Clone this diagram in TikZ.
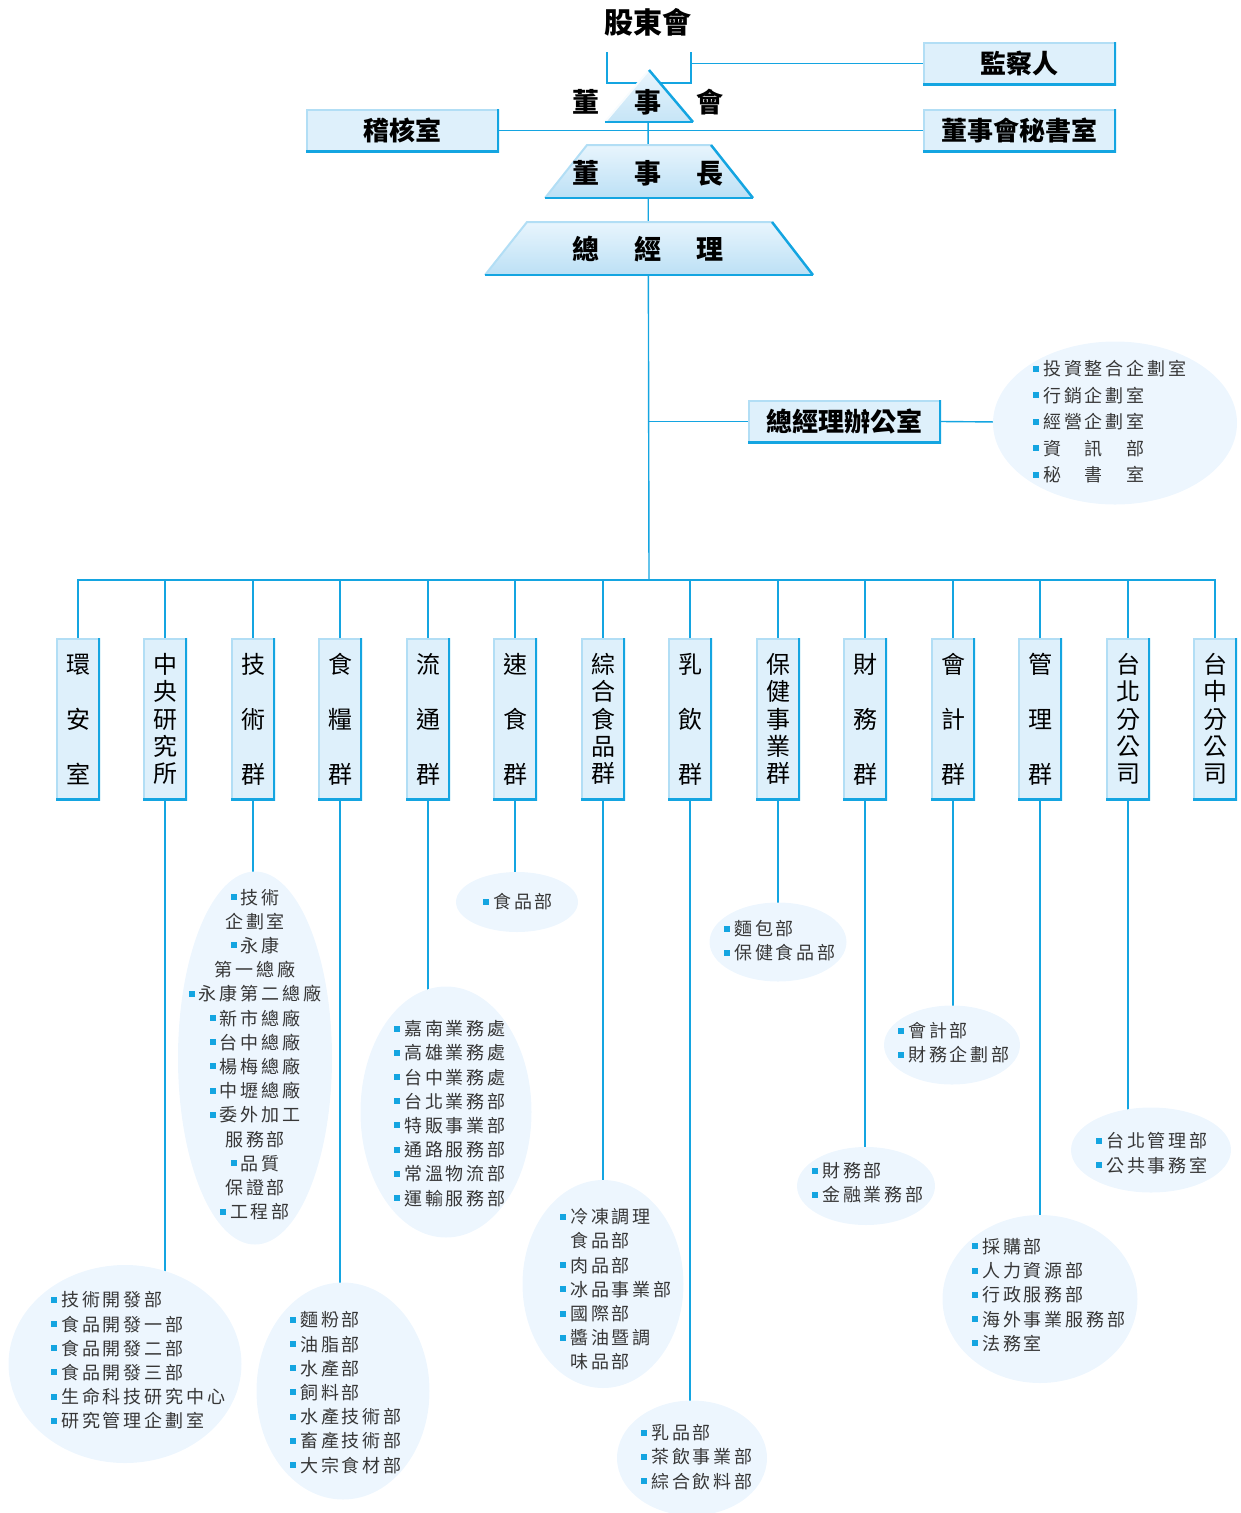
\documentclass[tikz,border=0pt]{standalone}
\usepackage{fontspec}
\setmainfont{Noto Sans CJK TC}
\newfontfamily\listfont{Noto Sans CJK TC}[LetterSpace=16]
\usetikzlibrary{shapes.geometric, backgrounds}
\definecolor{ogcyan}{RGB}{20,165,225}
\definecolor{ogfill}{RGB}{222,240,251}
\definecolor{oghigh}{RGB}{178,222,245}
\definecolor{ogcloud}{RGB}{237,246,254}
\definecolor{oggray}{RGB}{55,55,55}
\definecolor{ogtopA}{RGB}{232,245,253}
\definecolor{ogtopB}{RGB}{188,224,245}
\tikzset{
    ogline/.style={draw=ogcyan, line width=1.4pt},
    ogbus/.style={draw=ogcyan, line width=2pt},
    ogbox/.style={fill=ogfill, inner sep=0pt,
      path picture={
        \draw[draw=oghigh, line width=3pt] (path picture bounding box.south west)
          -- (path picture bounding box.north west) -- (path picture bounding box.north east);
        \draw[draw=ogcyan, line width=5pt] (path picture bounding box.north east)
          -- (path picture bounding box.south east) -- (path picture bounding box.south west);}},
    oghead/.style={ogbox, minimum width=193, minimum height=43, font=\bfseries\fontsize{26}{30}\selectfont},
    oggroup/.style={ogbox, minimum width=44, minimum height=162, align=center, font=\fontsize{24}{55}\selectfont},
    ogdense/.style={oggroup, font=\fontsize{24}{27.3}\selectfont},
    ogtitle/.style={inner sep=0pt, font=\bfseries\fontsize{27}{30}\selectfont},
    ogcloud/.style={ellipse, fill=ogcloud, inner sep=0pt},
    oglist/.style={inner sep=0pt, anchor=west, align=left, text=oggray, font=\listfont\fontsize{18}{24.2}\selectfont}
}
\newcommand{\ogdot}{\textcolor{ogcyan}{\rule[4pt]{6pt}{6pt}}\hspace{4pt}}
\newcommand{\ogskip}{\hspace*{10pt}}

\begin{document}
\begin{tikzpicture}[x=1pt, y=-1pt]
  \useasboundingbox (0,0) rectangle (1240,1513);

  % board, chairman and president shapes
  \shade[top color=ogtopA, bottom color=ogtopB!85] (649,70) -- (693,122) -- (605,122) -- cycle;
  \draw[white!70!ogtopA, line width=2pt] (605,122) -- (649,70);
  \draw[ogcyan, line width=2.5pt] (649,70) -- (693,122);
  \draw[ogcyan, line width=1.5pt] (693,122) -- (605,122);
  \shade[top color=ogtopA, bottom color=ogtopB] (587,145) -- (711,145) -- (753,198) -- (545,198) -- cycle;
  \draw[oghigh, line width=2pt] (545,198) -- (587,145) -- (711,145);
  \draw[ogcyan, line width=2.5pt] (711,145) -- (753,198);
  \draw[ogcyan, line width=1.5pt] (753,198) -- (545,198);
  \shade[top color=ogtopA, bottom color=ogtopB] (527,222) -- (772,222) -- (813,275) -- (485,275) -- cycle;
  \draw[oghigh, line width=2pt] (485,275) -- (527,222) -- (772,222);
  \draw[ogcyan, line width=2.5pt] (772,222) -- (813,275);
  \draw[ogcyan, line width=1.5pt] (813,275) -- (485,275);

  \node[ogtitle, font=\bfseries\fontsize{29}{30}\selectfont] (sh) at (648,22) {股東會};
  \node[ogtitle] (bod) at (648,102) {董\hspace{35pt}事\hspace{35pt}會};
  \node[ogtitle] (chair) at (648,173) {董\hspace{35pt}事\hspace{35pt}長};
  \node[ogtitle] (gm) at (648,249) {總\hspace{35pt}經\hspace{35pt}理};
  \coordinate (shl) at (607,52);
  \coordinate (shr) at (691,52);
  \coordinate (bus) at (649,580);

  \node[oghead] (sup) at (1019.5,63.5) {監察人};
  \node[oghead] (audit) at (402.5,130.5) {稽核室};
  \node[oghead] (sec) at (1019.5,130.5) {董事會秘書室};
  \node[oghead] (gmo) at (844.5,421.5) {總經理辦公室};

  % business groups
  \node[oggroup] (env) at (78,719) {環\\安\\室};
  \node[ogdense] (rnd) at (165,719) {中\\央\\研\\究\\所};
  \node[oggroup] (tech) at (253,719) {技\\術\\群};
  \node[oggroup] (food) at (340,719) {食\\糧\\群};
  \node[oggroup] (dist) at (428,719) {流\\通\\群};
  \node[oggroup] (fast) at (515,719) {速\\食\\群};
  \node[ogdense] (gen) at (603,719) {綜\\合\\食\\品\\群};
  \node[oggroup] (dairy) at (690,719) {乳\\飲\\群};
  \node[ogdense] (health) at (778,719) {保\\健\\事\\業\\群};
  \node[oggroup] (fin) at (865,719) {財\\務\\群};
  \node[oggroup] (acct) at (953,719) {會\\計\\群};
  \node[oggroup] (mgmt) at (1040,719) {管\\理\\群};
  \node[ogdense] (tpe) at (1128,719) {台\\北\\分\\公\\司};
  \node[ogdense] (txg) at (1215,719) {台\\中\\分\\公\\司};

  % departments
  \node[ogcloud, minimum width=244, minimum height=163] (gmoc) at (1115,423) {};
  \node[oglist, font=\listfont\fontsize{18}{26.5}\selectfont] (gmol) at (1033,422) {\ogdot 投資整合企劃室\\\ogdot 行銷企劃室\\\ogdot 經營企劃室\\\ogdot 資　訊　部\\\ogdot 秘　書　室};
  \node[ogcloud, minimum width=233, minimum height=198] (rndc) at (125,1364) {};
  \node[oglist] (rndl) at (51,1360.5) {\ogdot 技術開發部\\\ogdot 食品開發一部\\\ogdot 食品開發二部\\\ogdot 食品開發三部\\\ogdot 生命科技研究中心\\\ogdot 研究管理企劃室};
  \node[ogcloud, minimum width=154, minimum height=373] (techc) at (255,1058) {};
  \node[oglist, anchor=center, align=center] (techl) at (255,1054.5) {\ogdot 技術\\企劃室\\\ogdot 永康\\第一總廠\\\ogdot 永康第二總廠\\\ogdot 新市總廠\\\ogdot 台中總廠\\\ogdot 楊梅總廠\\\ogdot 中壢總廠\\\ogdot 委外加工\\服務部\\\ogdot 品質\\保證部\\\ogdot 工程部};
  \node[ogcloud, minimum width=173, minimum height=217] (foodc) at (343,1391) {};
  \node[oglist] (foodl) at (290,1392.5) {\ogdot 麵粉部\\\ogdot 油脂部\\\ogdot 水產部\\\ogdot 飼料部\\\ogdot 水產技術部\\\ogdot 畜產技術部\\\ogdot 大宗食材部};
  \node[ogcloud, minimum width=171, minimum height=251] (distc) at (446,1112) {};
  \node[oglist] (distl) at (394,1113.5) {\ogdot 嘉南業務處\\\ogdot 高雄業務處\\\ogdot 台中業務處\\\ogdot 台北業務部\\\ogdot 特販事業部\\\ogdot 通路服務部\\\ogdot 常溫物流部\\\ogdot 運輸服務部};
  \node[ogcloud, minimum width=122, minimum height=60] (fastc) at (517,902) {};
  \node[oglist] (fastl) at (483,902) {\ogdot 食品部};
  \node[ogcloud, minimum width=161, minimum height=208] (genc) at (603,1284) {};
  \node[oglist] (genl) at (560,1289.5) {\ogdot 冷凍調理\\\ogskip 食品部\\\ogdot 肉品部\\\ogdot 冰品事業部\\\ogdot 國際部\\\ogdot 醬油暨調\\\ogskip 味品部};
  \node[ogcloud, minimum width=150, minimum height=115] (dairyc) at (692,1458) {};
  \node[oglist] (dairyl) at (641,1457) {\ogdot 乳品部\\\ogdot 茶飲事業部\\\ogdot 綜合飲料部};
  \node[ogcloud, minimum width=137, minimum height=79] (healthc) at (778,942) {};
  \node[oglist] (healthl) at (724,941) {\ogdot 麵包部\\\ogdot 保健食品部};
  \node[ogcloud, minimum width=138, minimum height=78] (finc) at (866,1186) {};
  \node[oglist] (finl) at (812,1183) {\ogdot 財務部\\\ogdot 金融業務部};
  \node[ogcloud, minimum width=136, minimum height=79] (acctc) at (952,1045) {};
  \node[oglist] (acctl) at (898,1043) {\ogdot 會計部\\\ogdot 財務企劃部};
  \node[ogcloud, minimum width=195, minimum height=168] (mgmtc) at (1040,1299) {};
  \node[oglist] (mgmtl) at (972,1295) {\ogdot 採購部\\\ogdot 人力資源部\\\ogdot 行政服務部\\\ogdot 海外事業服務部\\\ogdot 法務室};
  \node[ogcloud, minimum width=160, minimum height=85] (tpec) at (1151,1150) {};
  \node[oglist] (tpel) at (1096,1153) {\ogdot 台北管理部\\\ogdot 公共事務室};

  \begin{scope}[on background layer]
    \draw[ogline] (shl) -- ++(0,31) -| (shr);
    \draw[ogline] (sup.west) -- (sup.west -| shr);
    \draw[ogline] (audit.east) -- (sec.west);
    \draw[ogline] (bod) -- (bus);
    \draw[ogline] (gmo.west) -- (gmo.west -| bus);
    \draw[ogline] (gmo.east) -- (gmoc);
    \draw[ogbus] (bus) -| (env.north);
    \draw[ogbus] (bus) -| (rnd.north);
    \draw[ogbus] (bus) -| (tech.north);
    \draw[ogbus] (bus) -| (food.north);
    \draw[ogbus] (bus) -| (dist.north);
    \draw[ogbus] (bus) -| (fast.north);
    \draw[ogbus] (bus) -| (gen.north);
    \draw[ogbus] (bus) -| (dairy.north);
    \draw[ogbus] (bus) -| (health.north);
    \draw[ogbus] (bus) -| (fin.north);
    \draw[ogbus] (bus) -| (acct.north);
    \draw[ogbus] (bus) -| (mgmt.north);
    \draw[ogbus] (bus) -| (tpe.north);
    \draw[ogbus] (bus) -| (txg.north);
    \draw[ogline] (rnd.south) -- (rnd.south |- rndc.center);
    \draw[ogline] (tech.south) -- (tech.south |- techc.center);
    \draw[ogline] (food.south) -- (food.south |- foodc.center);
    \draw[ogline] (dist.south) -- (dist.south |- distc.center);
    \draw[ogline] (fast.south) -- (fast.south |- fastc.center);
    \draw[ogline] (gen.south) -- (gen.south |- genc.center);
    \draw[ogline] (dairy.south) -- (dairy.south |- dairyc.center);
    \draw[ogline] (health.south) -- (health.south |- healthc.center);
    \draw[ogline] (fin.south) -- (fin.south |- finc.center);
    \draw[ogline] (acct.south) -- (acct.south |- acctc.center);
    \draw[ogline] (mgmt.south) -- (mgmt.south |- mgmtc.center);
    \draw[ogline] (tpe.south) -- (tpe.south |- tpec.center);
  \end{scope}
\end{tikzpicture}
\end{document}
